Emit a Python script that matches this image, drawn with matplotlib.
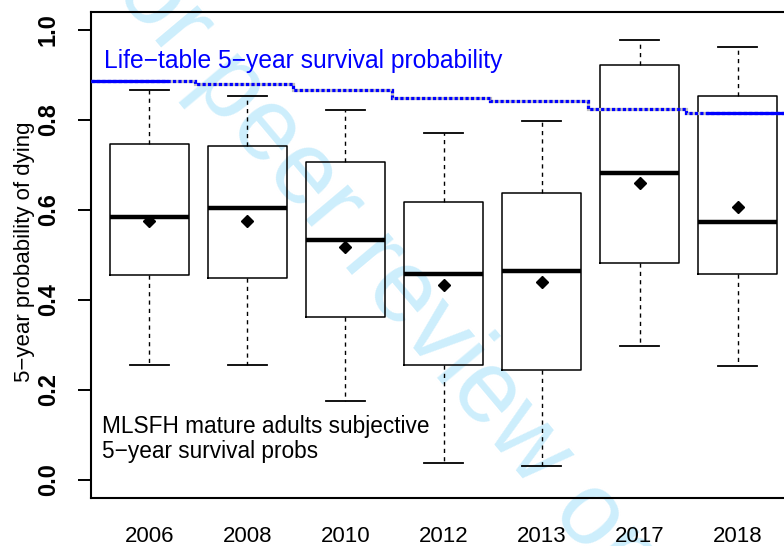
import matplotlib
matplotlib.use("Agg")
import matplotlib.pyplot as plt
import numpy as np

plt.rcParams['font.family'] = ['Liberation Sans', 'DejaVu Sans']

years = ["2006", "2008", "2010", "2012", "2013", "2017", "2018"]
whislo = [0.256, 0.256, 0.175, 0.038, 0.032, 0.298, 0.254]
q1 = [0.455, 0.449, 0.363, 0.255, 0.245, 0.482, 0.457]
med = [0.584, 0.604, 0.533, 0.457, 0.464, 0.682, 0.573]
q3 = [0.747, 0.743, 0.707, 0.617, 0.637, 0.922, 0.853]
whishi = [0.867, 0.853, 0.823, 0.772, 0.797, 0.977, 0.962]
means = [0.576, 0.576, 0.518, 0.433, 0.441, 0.659, 0.607]

# life-table 5-year survival probability, one level per wave
life_table = [0.887, 0.880, 0.867, 0.850, 0.842, 0.825, 0.816]

fig = plt.figure(figsize=(7.84, 5.46), dpi=100)
ax = fig.add_axes([91/784, 48/546, 705/784, 486/546])
ax.set_xlim(0.405, 7.595)
ax.set_ylim(-0.04, 1.04)

pos = np.arange(1, len(years) + 1)

stats = []
for i in range(len(years)):
    stats.append(dict(whislo=whislo[i], q1=q1[i], med=med[i], q3=q3[i],
                      whishi=whishi[i], mean=means[i], fliers=[]))

ax.bxp(stats, positions=pos, widths=0.8, capwidths=0.4, showmeans=True,
       boxprops=dict(color="black", lw=1.1),
       medianprops=dict(color="black", lw=3.2, solid_capstyle="butt"),
       whiskerprops=dict(color="black", lw=1.0, linestyle=(0, (3, 3))),
       capprops=dict(color="black", lw=1.3),
       meanprops=dict(marker="D", markerfacecolor="black",
                      markeredgecolor="black", markersize=6.2))

# step line for the life table
edges = np.concatenate([[0.405], pos[:-1] + 0.47, [7.595]])
ax.stairs(life_table, edges, baseline=None, color="#c0c0c0", lw=2.3, zorder=3)
ax.stairs(life_table, edges, baseline=None, color="blue", lw=2.3,
          linestyle=(0, (1.0, 0.7)), zorder=4)
ax.hlines(life_table[0], 0.405, 1.19, color="blue", lw=2.3, zorder=5)
ax.hlines(life_table[-1], 6.68, 7.595, color="blue", lw=2.3, zorder=5)

ax.text(0.538, 0.916, "Life\u2212table 5\u2212year survival probability",
        color="blue", fontsize=17.7, va="baseline", ha="left")
ax.text(0.517, 0.104, "MLSFH mature adults subjective",
        color="black", fontsize=16.3, va="baseline", ha="left")
ax.text(0.517, 0.049, "5\u2212year survival probs",
        color="black", fontsize=16.3, va="baseline", ha="left")

ax.set_xticks(pos)
ax.set_xticklabels(years, fontsize=16)
ax.tick_params(axis="x", length=0, pad=20)
ax.set_yticks([0.0, 0.2, 0.4, 0.6, 0.8, 1.0])
ax.set_yticklabels(["0.0", "0.2", "0.4", "0.6", "0.8", "1.0"], fontsize=17,
                   rotation=90, va="center", fontweight="bold")
ax.tick_params(axis="y", length=9.4, width=1.4, pad=13)
for s in ax.spines.values():
    s.set_linewidth(1.5)

fig.text(25/784, 1 - 252/546, "5\u2212year probability of dying", rotation=90,
         fontsize=16, ha="center", va="center")

# watermark
ax.text(392/784, 1 - 282/546, "For peer review only", transform=fig.transFigure,
        rotation=-50, fontsize=74, color="#cdeefc", ha="center", va="center",
        rotation_mode="anchor", zorder=0.5, clip_on=False)

fig.savefig("out.png", dpi=100)
